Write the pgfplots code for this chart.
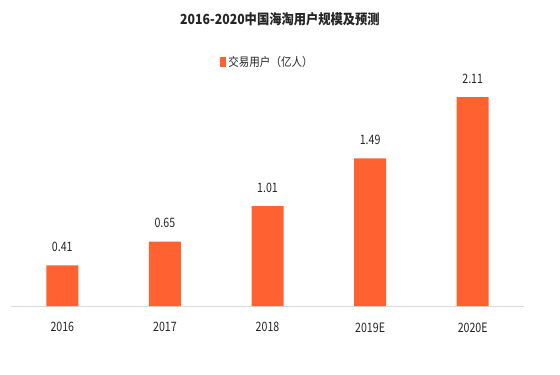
\documentclass[border=0pt]{standalone}
\usepackage{pgfplots}
\pgfplotsset{compat=1.18}
\usepackage{fontspec}
\setmainfont{Noto Sans CJK SC}
\newfontfamily\cjk{Noto Sans CJK SC}
\newfontfamily\cond[FakeStretch=0.82]{Noto Sans CJK SC}
\newfontfamily\condt[FakeStretch=0.88]{Noto Sans CJK SC}
\definecolor{barc}{HTML}{FF6130}
\definecolor{axc}{HTML}{D9D9D9}
\begin{document}
\begin{tikzpicture}[x=1bp,y=1bp]
\path[use as bounding box, fill=white] (0,0) rectangle (560,374);
\node[font=\condt\bfseries\fontsize{14}{16}\selectfont, text=black!85] at (280,355) {2016-2020中国海淘用户规模及预测};
\begin{axis}[
  at={(11bp,68bp)}, anchor=south west,
  scale only axis, width=513bp, height=238bp,
  xmin=-0.5, xmax=4.5, ymin=0, ymax=2.404,
  axis y line=none,
  axis x line*=bottom,
  x axis line style={axc, line width=0.8pt, -},
  xtick={0,1,2,3,4},
  xticklabels={2016,2017,2018,2019E,2020E},
  minor xtick={-0.5,0.5,1.5,2.5,3.5,4.5},
  major tick length=0pt,
  minor tick length=4bp,
  xtick style={draw=none},
  minor x tick style={axc, line width=0.8pt},
  tick align=outside,
  xticklabel style={font=\cond\fontsize{13}{15}\selectfont, text=black!85, yshift=-13bp},
  ybar, bar width=32bp,
  nodes near coords,
  nodes near coords style={font=\cond\fontsize{13}{15}\selectfont, text=black!85, yshift=10bp},
  /pgf/number format/assume math mode=true,
  /pgf/number format/fixed, /pgf/number format/precision=2, /pgf/number format/fixed zerofill,
  legend style={at={(0.5,1)}, anchor=south, yshift=-4bp, draw=none, fill=none, font=\condt\fontsize{12}{14}\selectfont, text=black!85},
  legend image code/.code={\fill[barc] (0bp,-5bp) rectangle (6bp,5bp);},
  clip=false,
]
\addplot[fill=barc, draw=none] coordinates {(0,0.41) (1,0.65) (2,1.01) (3,1.49) (4,2.11)};
\addlegendentry{交易用户（亿人）}
\end{axis}
\end{tikzpicture}
\end{document}
